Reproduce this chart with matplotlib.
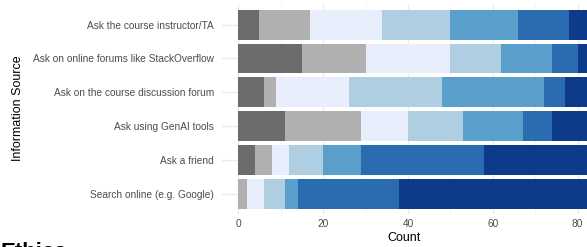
import numpy as np
import matplotlib
matplotlib.use("Agg")
import matplotlib.pyplot as plt

plt.rcParams['font.family'] = ['Liberation Sans', 'DejaVu Sans']

# categories, bottom to top
sources = ['Search online (e.g. Google)', 'Ask a friend', 'Ask using GenAI tools',
           'Ask on the course discussion forum',
           'Ask on online forums like StackOverflow', 'Ask the course instructor/TA']

levels = ['Not applicable', 'Never', 'Rarely', 'Sometimes', 'Often', 'Usually', 'Always']
colors = ['#6c6c6c', '#b0b0b0', '#e8eefc', '#b0cee2', '#5a9ecb', '#2b6cb0', '#0d3b8a']

# counts per level, rows follow `sources`
counts = {
    'Not applicable': [0, 4, 11, 6, 15, 5],
    'Never':          [2, 4, 18, 3, 15, 12],
    'Rarely':         [4, 4, 11, 17, 20, 17],
    'Sometimes':      [5, 8, 13, 22, 12, 16],
    'Often':          [3, 9, 14, 24, 12, 16],
    'Usually':        [24, 29, 7, 5, 6, 12],
    'Always':         [50, 30, 14, 11, 8, 10],
}

fig = plt.figure(figsize=(5.87, 2.47), dpi=100)
ax = fig.add_axes([221.7/587, 33/247, 365.3/587, 209.6/247])

y = np.arange(len(sources))
left = np.zeros(len(sources))
for lev, col in zip(levels, colors):
    vals = np.array(counts[lev], dtype=float)
    ax.barh(y, vals, left=left, height=0.88, color=col, linewidth=0, zorder=2)
    left += vals

ax.set_xlim(-3.9, 82.2)
ax.set_ylim(-0.6, len(sources) - 0.4)
ax.set_yticks(y)
ax.set_yticklabels(sources)
ax.set_xticks([0, 20, 40, 60, 80])
ax.set_xticks([10, 30, 50, 70], minor=True)

ax.grid(True, which='major', color='#ebebeb', linewidth=1.0, zorder=0)
ax.grid(True, which='minor', axis='x', color='#f2f2f2', linewidth=0.6, zorder=0)
ax.set_axisbelow(True)
for s in ax.spines.values():
    s.set_visible(False)
ax.tick_params(axis='both', which='both', length=0, labelsize=7.3, labelcolor='#4d4d4d')
ax.tick_params(axis='y', pad=5.5)
ax.tick_params(axis='x', pad=3.5)

ax.set_xlabel('Count', fontsize=9, labelpad=2.5)
fig.text(18.5/587, 0.5628, 'Information Source', rotation=90, fontsize=9,
         ha='center', va='center')

# heading of the next section, cut off by the bottom edge as in the source
fig.text(0.001, 0.021, 'Ethics', fontsize=16, fontweight='bold', ha='left', va='top')

fig.savefig('out.png', dpi=100)
